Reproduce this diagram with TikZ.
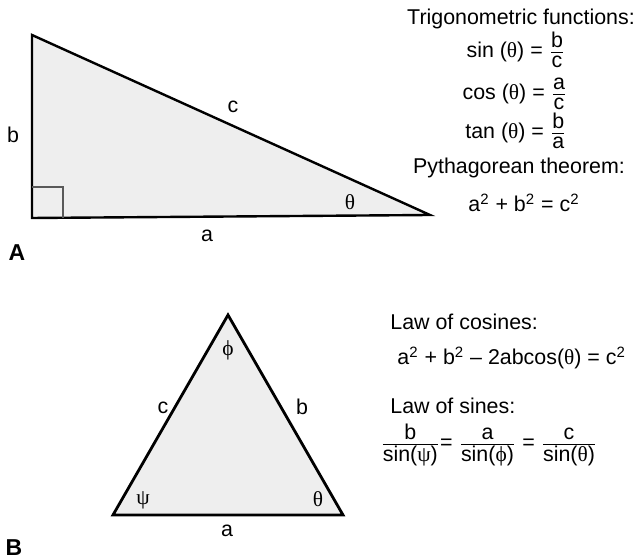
\documentclass[tikz,border=0pt]{standalone}
\usepackage{fontspec}
\setmainfont{Liberation Sans}
\newfontfamily\grk{Liberation Serif}
\newcommand{\gth}{{\grk θ}}
\newcommand{\gps}{{\grk ψ}}
\newcommand{\gph}{{\grk ϕ}}
\newcommand{\fr}[2]{$\frac{\raisebox{0.8pt}{#1}}{\raisebox{-1.2pt}{#2}}$}
\begin{document}
\begin{tikzpicture}[x=0.5pt,y=-0.5pt,
  every node/.style={font=\fontsize{10.7}{12.8}\selectfont, inner sep=0pt},
  tri/.style={draw=black, line width=1.2pt, fill=gray!13, line join=miter},
  lbl/.style={anchor=center},
  panel/.style={font=\fontsize{11.5}{13}\selectfont\bfseries, anchor=center},
  txt/.style={anchor=base},
  txtw/.style={anchor=base west}]
\useasboundingbox (0,0) rectangle (639,560);
% ---------- Panel A ----------
\coordinate (A1) at (32,35);
\coordinate (A2) at (32,218);
\coordinate (A3) at (430,215);
\draw[tri] (A1) -- (A2) -- (A3) -- cycle;
\draw[draw=black!65, line width=1.1pt] (32,187) -- (63,187) -- (63,218);
\node[lbl] (lb) at (13,135) {b};
\node[lbl] (lc) at (233,107) {c};
\node[lbl] (lth) at (350,202) {\gth};
\node[lbl] (la) at (207,236) {a};
\node[panel] (pA) at (17,253) {A};
\node[txt] (t1) at (521,25) {Trigonometric functions:};
\node[txt] (t2) at (516,58) {sin (\gth) = \fr{b}{c}};
\node[txt] (t3) at (515,100) {cos (\gth) = \fr{a}{c}};
\node[txt] (t4) at (516,139) {tan (\gth) = \fr{b}{a}};
\node[txt] (t5) at (519,174) {Pythagorean theorem:};
\node[txt] (t6) at (524,212) {a\textsuperscript{2} + b\textsuperscript{2} = c\textsuperscript{2}};
% ---------- Panel B ----------
\coordinate (B1) at (228,315);
\coordinate (B2) at (113,515);
\coordinate (B3) at (343,515);
\draw[tri, line width=1.4pt] (B1) -- (B2) -- (B3) -- cycle;
\node[lbl] (bph) at (228,350) {\gph};
\node[lbl] (bc) at (163,408) {c};
\node[lbl] (bb) at (302,407) {b};
\node[lbl] (bps) at (143,500) {\gps};
\node[lbl] (bth) at (318,499) {\gth};
\node[lbl] (ba) at (227,531) {a};
\node[panel] (pB) at (14,548) {B};
\node[txtw] (s1) at (390,330) {Law of cosines:};
\node[txtw] (s2) at (397,365) {a\textsuperscript{2} + b\textsuperscript{2} – 2abcos(\gth) = c\textsuperscript{2}};
\node[txtw] (s3) at (390,414) {Law of sines:};
\node[txtw] (s4) at (380,450) {\fr{b}{sin(\gps)}= \fr{a}{sin(\gph)} = \fr{c}{sin(\gth)}};
\end{tikzpicture}
\end{document}
